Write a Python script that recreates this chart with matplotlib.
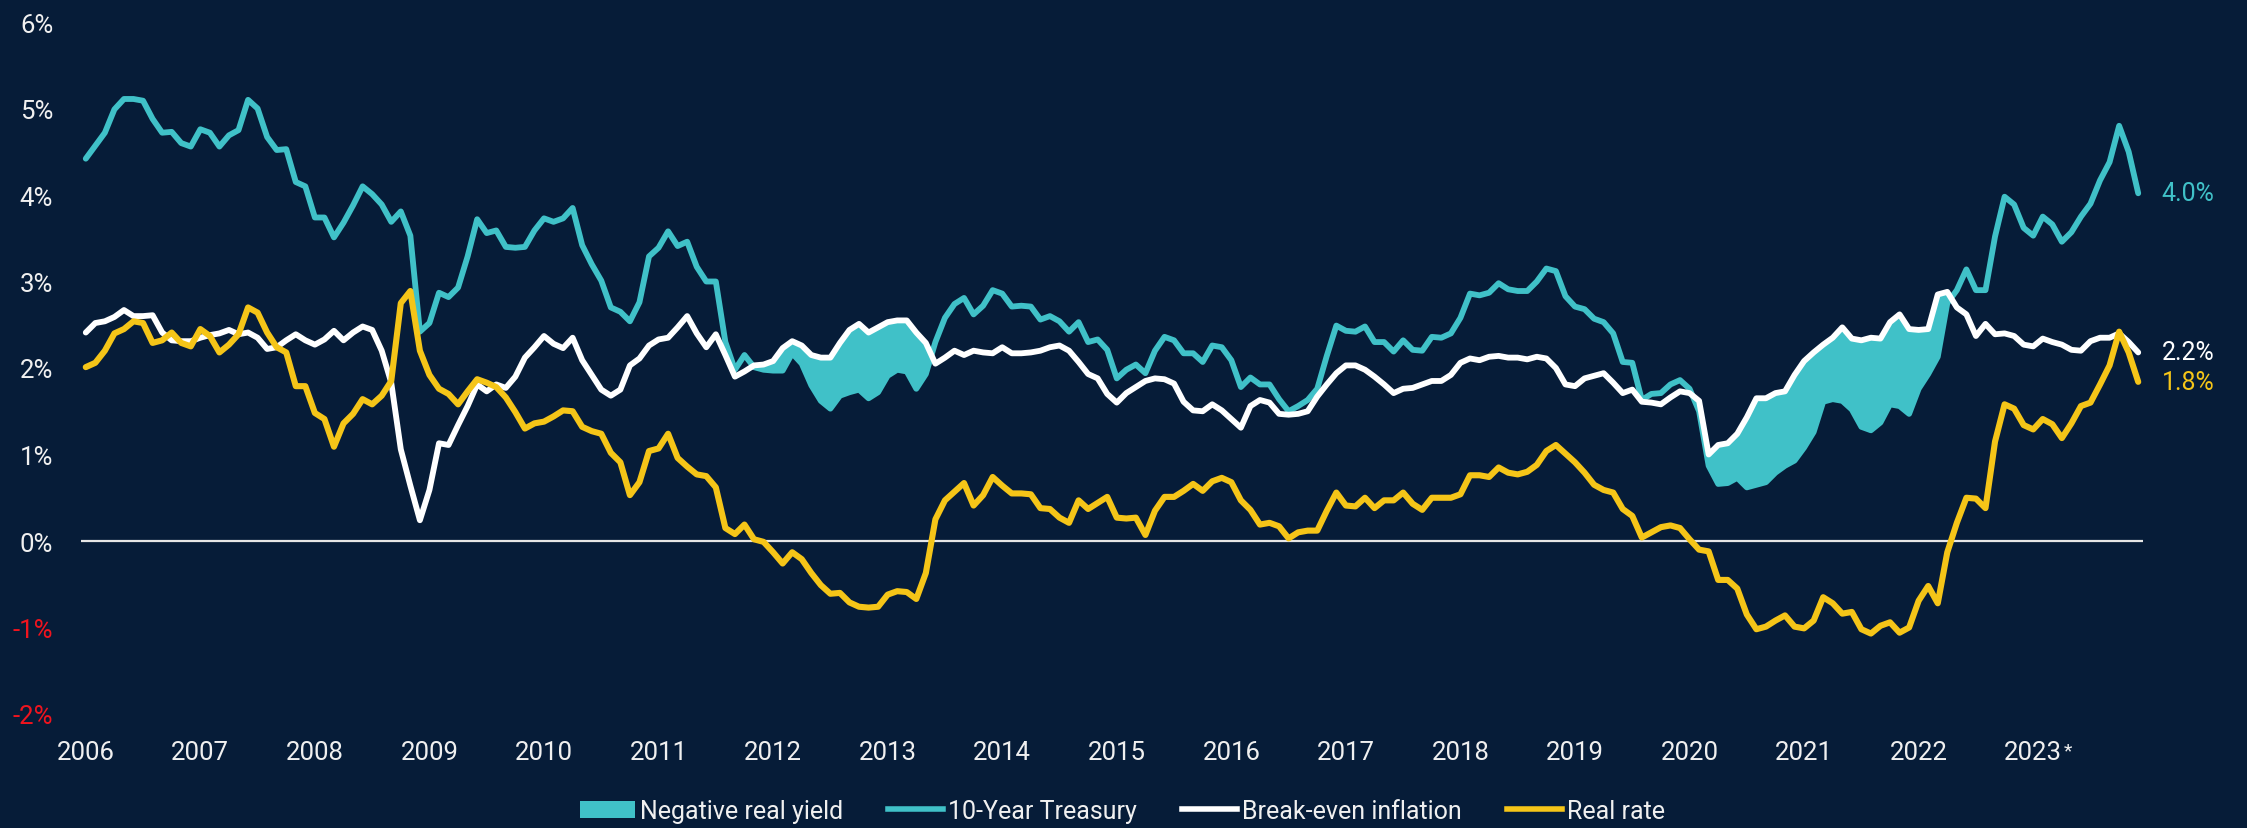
import matplotlib
matplotlib.use("Agg")
import matplotlib.pyplot as plt
from matplotlib.patches import Patch
from matplotlib.lines import Line2D
import numpy as np

plt.rcParams['font.family'] = ['Roboto', 'DejaVu Sans']
plt.rcParams['font.weight'] = 'normal'

# Monthly data, Jan 2006 - Dec 2023 (%)
treasury_10y = [
    4.42, 4.57, 4.72, 4.99, 5.11, 5.11, 5.09, 4.88, 4.72, 4.73, 4.60, 4.56,  # 2006
    4.76, 4.72, 4.56, 4.69, 4.75, 5.10, 5.00, 4.67, 4.52, 4.53, 4.15, 4.10,  # 2007
    3.74, 3.74, 3.51, 3.68, 3.88, 4.10, 4.01, 3.89, 3.69, 3.81, 3.53, 2.42,  # 2008
    2.52, 2.87, 2.82, 2.93, 3.29, 3.72, 3.56, 3.59, 3.40, 3.39, 3.40, 3.59,  # 2009
    3.73, 3.69, 3.73, 3.85, 3.42, 3.20, 3.01, 2.70, 2.65, 2.54, 2.76, 3.29,  # 2010
    3.39, 3.58, 3.41, 3.46, 3.17, 3.00, 3.00, 2.30, 1.98, 2.15, 2.01, 1.98,  # 2011
    1.97, 1.97, 2.17, 2.05, 1.80, 1.62, 1.53, 1.68, 1.72, 1.75, 1.65, 1.72,  # 2012
    1.91, 1.98, 1.96, 1.76, 1.93, 2.30, 2.58, 2.74, 2.81, 2.62, 2.72, 2.90,  # 2013
    2.86, 2.71, 2.72, 2.71, 2.56, 2.60, 2.54, 2.42, 2.53, 2.30, 2.33, 2.21,  # 2014
    1.88, 1.98, 2.04, 1.94, 2.20, 2.36, 2.32, 2.17, 2.17, 2.07, 2.26, 2.24,  # 2015
    2.09, 1.78, 1.89, 1.81, 1.81, 1.64, 1.50, 1.56, 1.63, 1.76, 2.14, 2.49,  # 2016
    2.43, 2.42, 2.48, 2.30, 2.30, 2.19, 2.32, 2.21, 2.20, 2.36, 2.35, 2.40,  # 2017
    2.58, 2.86, 2.84, 2.87, 2.98, 2.91, 2.89, 2.89, 3.00, 3.15, 3.12, 2.83,  # 2018
    2.71, 2.68, 2.57, 2.53, 2.40, 2.07, 2.06, 1.63, 1.70, 1.71, 1.81, 1.86,  # 2019
    1.76, 1.50, 0.87, 0.66, 0.67, 0.73, 0.62, 0.65, 0.68, 0.79, 0.87, 0.93,  # 2020
    1.08, 1.26, 1.61, 1.64, 1.62, 1.52, 1.32, 1.28, 1.37, 1.58, 1.56, 1.47,  # 2021
    1.76, 1.93, 2.13, 2.75, 2.90, 3.14, 2.90, 2.90, 3.52, 3.98, 3.89, 3.62,  # 2022
    3.53, 3.75, 3.66, 3.46, 3.57, 3.75, 3.90, 4.17, 4.38, 4.80, 4.50, 4.02,  # 2023
]

breakeven = [
    2.41, 2.52, 2.54, 2.59, 2.67, 2.60, 2.60, 2.61, 2.41, 2.32, 2.31, 2.31,  # 2006
    2.35, 2.38, 2.40, 2.44, 2.39, 2.41, 2.35, 2.22, 2.24, 2.32, 2.39, 2.32,  # 2007
    2.27, 2.33, 2.43, 2.32, 2.41, 2.48, 2.44, 2.20, 1.83, 1.06, 0.64, 0.24,  # 2008
    0.59, 1.13, 1.11, 1.34, 1.56, 1.81, 1.73, 1.81, 1.77, 1.90, 2.12, 2.24,  # 2009
    2.37, 2.28, 2.23, 2.35, 2.09, 1.92, 1.75, 1.68, 1.75, 2.03, 2.11, 2.26,  # 2010
    2.33, 2.35, 2.47, 2.60, 2.40, 2.24, 2.39, 2.15, 1.90, 1.96, 2.03, 2.04,  # 2011
    2.08, 2.23, 2.31, 2.26, 2.15, 2.12, 2.12, 2.29, 2.44, 2.51, 2.41, 2.47,  # 2012
    2.53, 2.55, 2.55, 2.41, 2.29, 2.05, 2.12, 2.20, 2.15, 2.20, 2.18, 2.17,  # 2013
    2.24, 2.17, 2.17, 2.18, 2.20, 2.24, 2.26, 2.20, 2.07, 1.93, 1.88, 1.70,  # 2014
    1.60, 1.71, 1.78, 1.85, 1.88, 1.87, 1.82, 1.61, 1.51, 1.50, 1.58, 1.51,  # 2015
    1.41, 1.31, 1.56, 1.63, 1.60, 1.47, 1.46, 1.47, 1.50, 1.67, 1.81, 1.94,  # 2016
    2.03, 2.03, 1.98, 1.90, 1.81, 1.71, 1.76, 1.77, 1.81, 1.85, 1.85, 1.92,  # 2017
    2.06, 2.11, 2.09, 2.13, 2.14, 2.12, 2.12, 2.10, 2.13, 2.11, 2.00, 1.81,  # 2018
    1.79, 1.88, 1.91, 1.94, 1.83, 1.71, 1.75, 1.61, 1.60, 1.58, 1.66, 1.73,  # 2019
    1.71, 1.62, 1.00, 1.11, 1.13, 1.24, 1.43, 1.65, 1.65, 1.71, 1.73, 1.92,  # 2020
    2.08, 2.18, 2.27, 2.35, 2.47, 2.34, 2.32, 2.35, 2.34, 2.53, 2.62, 2.45,  # 2021
    2.44, 2.45, 2.85, 2.88, 2.70, 2.62, 2.37, 2.51, 2.39, 2.40, 2.37, 2.27,  # 2022
    2.25, 2.34, 2.30, 2.27, 2.21, 2.20, 2.31, 2.35, 2.35, 2.40, 2.30, 2.18,  # 2023
]

real_rate = [
    2.01, 2.06, 2.20, 2.40, 2.45, 2.54, 2.52, 2.29, 2.32, 2.41, 2.29, 2.25,  # 2006
    2.45, 2.37, 2.18, 2.27, 2.39, 2.70, 2.64, 2.41, 2.24, 2.18, 1.79, 1.79,  # 2007
    1.48, 1.41, 1.09, 1.36, 1.47, 1.64, 1.58, 1.68, 1.85, 2.75, 2.89, 2.20,  # 2008
    1.92, 1.76, 1.70, 1.58, 1.73, 1.87, 1.83, 1.78, 1.66, 1.49, 1.30, 1.36,  # 2009
    1.38, 1.44, 1.51, 1.50, 1.32, 1.27, 1.24, 1.02, 0.91, 0.53, 0.68, 1.04,  # 2010
    1.07, 1.24, 0.96, 0.86, 0.77, 0.75, 0.62, 0.15, 0.08, 0.19, 0.02, -0.01,  # 2011
    -0.13, -0.26, -0.13, -0.21, -0.37, -0.51, -0.61, -0.60, -0.71, -0.76, -0.77, -0.76,  # 2012
    -0.62, -0.58, -0.59, -0.67, -0.37, 0.25, 0.47, 0.57, 0.67, 0.41, 0.53, 0.74,  # 2013
    0.64, 0.55, 0.55, 0.54, 0.38, 0.37, 0.27, 0.21, 0.47, 0.37, 0.44, 0.51,  # 2014
    0.27, 0.26, 0.27, 0.07, 0.35, 0.51, 0.51, 0.58, 0.66, 0.58, 0.69, 0.73,  # 2015
    0.68, 0.47, 0.36, 0.19, 0.21, 0.17, 0.03, 0.10, 0.12, 0.12, 0.35, 0.56,  # 2016
    0.41, 0.40, 0.50, 0.38, 0.47, 0.47, 0.56, 0.43, 0.36, 0.50, 0.50, 0.50,  # 2017
    0.54, 0.76, 0.76, 0.74, 0.85, 0.79, 0.77, 0.80, 0.88, 1.04, 1.11, 1.01,  # 2018
    0.91, 0.79, 0.65, 0.59, 0.56, 0.37, 0.29, 0.04, 0.10, 0.16, 0.18, 0.15,  # 2019
    0.02, -0.10, -0.12, -0.45, -0.45, -0.55, -0.85, -1.02, -0.99, -0.92, -0.86, -0.99,  # 2020
    -1.01, -0.92, -0.65, -0.72, -0.84, -0.82, -1.02, -1.07, -0.98, -0.94, -1.06, -1.00,  # 2021
    -0.69, -0.52, -0.72, -0.13, 0.21, 0.50, 0.49, 0.38, 1.15, 1.58, 1.53, 1.34,  # 2022
    1.29, 1.41, 1.35, 1.19, 1.36, 1.56, 1.60, 1.81, 2.03, 2.42, 2.18, 1.84,  # 2023
]

year_labels = [str(y) for y in range(2006, 2024)]
y_ticks = [-2, -1, 0, 1, 2, 3, 4, 5, 6]
y_tick_labels = ['-2%', '-1%', '0%', '1%', '2%', '3%', '4%', '5%', '6%']
end_labels = ['4.0%', '2.2%', '1.8%']
legend_labels = ['Negative real yield', '10-Year Treasury', 'Break-even inflation', 'Real rate']

BG = '#061c38'
TEAL = '#40c1c8'
WHITE = '#ffffff'
YELLOW = '#f5c518'
RED = '#f0141e'
TXT = '#f0f0f0'

t = np.array(treasury_10y)
b = np.array(breakeven)
r = np.array(real_rate)
x = np.arange(len(t))

fig = plt.figure(figsize=(22.47, 8.29), dpi=100, facecolor=BG)
ax = fig.add_axes([81 / 2247, 1 - 715 / 829, (2143 - 81) / 2247, (715 - 23) / 829])
ax.set_facecolor(BG)

ax.axhline(0, color='#e6e6e6', lw=1.6, zorder=1)
ax.fill_between(x, t, b, where=t < b, interpolate=True, color=TEAL, lw=0, zorder=2)
ax.plot(x, t, color=TEAL, lw=4.2, zorder=3, solid_joinstyle='round', solid_capstyle='round')
ax.plot(x, b, color=WHITE, lw=4.2, zorder=4, solid_joinstyle='round', solid_capstyle='round')
ax.plot(x, r, color=YELLOW, lw=4.4, zorder=5, solid_joinstyle='round', solid_capstyle='round')

ax.set_xlim(-0.5, len(t) - 0.5)
ax.set_ylim(-2, 6)
for s in ax.spines.values():
    s.set_visible(False)

FS = 18.5
ax.set_yticks(y_ticks)
ax.set_yticklabels(y_tick_labels, fontsize=FS)
for lbl, v in zip(ax.get_yticklabels(), y_ticks):
    lbl.set_color(RED if v < 0 else TXT)
ax.tick_params(axis='y', length=0, pad=20)

ax.set_xticks(np.arange(0, len(t), 12))
ax.set_xticklabels(year_labels, fontsize=FS, color=TXT)
ax.tick_params(axis='x', length=0, pad=19)
ax.annotate('*', xy=(204, 0), xycoords=('data', 'axes fraction'),
            xytext=(22, -20), textcoords='offset points', fontsize=14,
            color=TXT, ha='left', va='top', annotation_clip=False)

last = len(t) - 1
for val, lab, col in zip([t[last], b[last], r[last]], end_labels, [TEAL, WHITE, YELLOW]):
    ax.annotate(lab, xy=(last, val), xytext=(17, 0), textcoords='offset points',
                fontsize=18, color=col, ha='left', va='center', annotation_clip=False)

handles = [Patch(facecolor=TEAL, edgecolor='none'),
           Line2D([], [], color=TEAL, lw=4),
           Line2D([], [], color=WHITE, lw=4),
           Line2D([], [], color=YELLOW, lw=4)]
leg = fig.legend(handles, legend_labels, loc='center', bbox_to_anchor=(0.4995, 0.0205),
                 ncol=4, frameon=False, fontsize=18, handlelength=2.2, handleheight=0.7,
                 handletextpad=0.2, columnspacing=1.8, labelcolor=TXT)

fig.savefig('out.png', dpi=100, facecolor=BG)
